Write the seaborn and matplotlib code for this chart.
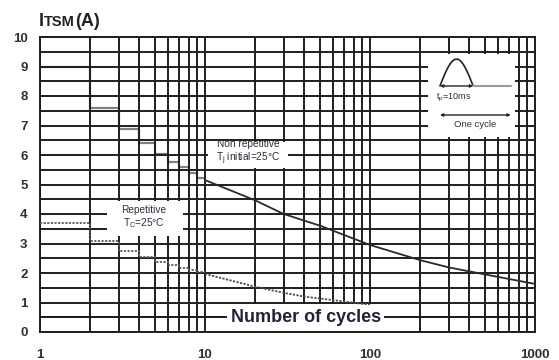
import numpy as np
import pandas as pd
import matplotlib
matplotlib.use("Agg")
import matplotlib.pyplot as plt
import seaborn as sns
from matplotlib.patches import Rectangle
from matplotlib.ticker import MultipleLocator, LogLocator, NullFormatter
from matplotlib.offsetbox import TextArea, HPacker, AnchoredOffsetbox

# Peak surge current ITSM versus number of 10 ms half-sine cycles
step_cycles = [1, 2, 3, 4, 5, 6, 7, 8, 9, 10]
nonrep_step = [8.97, 7.58, 6.88, 6.40, 6.02, 5.77, 5.60, 5.38, 5.21, 5.21]
rep_step = [3.68, 3.08, 2.75, 2.55, 2.38, 2.27, 2.18, 2.10, 2.02, 2.02]

nonrep_cycles = [10, 20, 30, 50, 100, 200, 300, 500, 1000]
nonrep_current = [5.15, 4.47, 4.0, 3.6, 2.95, 2.44, 2.19, 1.95, 1.63]

rep_cycles = [10, 20, 30, 40, 60, 100]
rep_current = [1.97, 1.54, 1.33, 1.2, 1.08, 0.92]

y_ticks = list(range(0, 11))
x_ticks = [1, 10, 100, 1000]
x_tick_labels = ["1", "10", "100", "1000"]

sns.set_theme(style="white")
plt.rcParams["font.family"] = ["Liberation Sans", "DejaVu Sans"]
plt.rcParams["mathtext.fontset"] = "custom"
plt.rcParams["mathtext.rm"] = "Liberation Sans"
plt.rcParams["mathtext.it"] = "Liberation Sans"

GRID = "#1e1e1e"
TXT = "#2e2e38"

fig = plt.figure(figsize=(5.59, 3.60), dpi=100)
ax = fig.add_axes([40 / 559, 28 / 360, 495 / 559, 295 / 360])
ax.set_xscale("log")
ax.set_xlim(1, 1000)
ax.set_ylim(0, 10)

# grid: every 0.5 A and every integer cycle count inside each decade
ax.yaxis.set_major_locator(MultipleLocator(1))
ax.yaxis.set_minor_locator(MultipleLocator(0.5))
ax.xaxis.set_minor_locator(LogLocator(base=10, subs=np.arange(2, 10)))
ax.xaxis.set_minor_formatter(NullFormatter())
ax.set_axisbelow(True)
ax.grid(True, which="both", color=GRID, linewidth=1.4)
ax.tick_params(which="both", length=0)
for s in ax.spines.values():
    s.set_color(GRID)
    s.set_linewidth(1.4)

ax.set_xticks(x_ticks, x_tick_labels)
ax.set_yticks(y_ticks, [str(v) for v in y_ticks])
ax.tick_params(axis="y", pad=9, labelsize=9.5, labelcolor=TXT)
ax.tick_params(axis="x", pad=12, labelsize=9.5, labelcolor=TXT)
for lab in ax.get_xticklabels() + ax.get_yticklabels():
    lab.set_fontweight("bold")

# white label areas that interrupt the grid
for (x0, x1, y0, y1) in [(10.4, 32.0, 5.55, 6.45),
                         (2.55, 7.36, 3.27, 4.43),
                         (225, 757, 6.6, 9.42),
                         (13.0, 150.0, 0.05, 0.95)]:
    ax.add_patch(Rectangle((x0, y0), x1 - x0, y1 - y0, facecolor="white",
                           edgecolor="none", zorder=1))
ax.axhline(0.5, color=GRID, linewidth=1.4, zorder=1.5)

# curves (the non-repetitive staircase sits under the grid)
sns.lineplot(x=step_cycles, y=nonrep_step, ax=ax, drawstyle="steps-post",
             color="#808080", linewidth=1.6, zorder=0.3, estimator=None)
sns.lineplot(x=nonrep_cycles, y=nonrep_current, ax=ax, color="#2a2a2a",
             linewidth=1.3, zorder=3, estimator=None)
sns.lineplot(x=step_cycles, y=rep_step, ax=ax, drawstyle="steps-post",
             color="#5a5a5a", linewidth=1.3, zorder=3,
             estimator=None, linestyle=(0, (1.2, 0.8)))
sns.lineplot(x=rep_cycles, y=rep_current, ax=ax, color="#4a4a4a",
             linewidth=1.3, zorder=3, estimator=None,
             linestyle=(0, (1.2, 0.8)))

ax.text(18.2, 6.08, "Non repetitive\nT$_\\mathrm{j}$ initial=25°C", ha="center",
        va="center", fontsize=7.3, color=TXT, linespacing=1.15, zorder=4)
ax.text(4.27, 3.88, "Repetitive\nT$_\\mathrm{C}$=25°C", ha="center",
        va="center", fontsize=7.3, color=TXT, linespacing=1.1, zorder=4)
ax.text(40.9, 0.5, "Number of cycles", ha="center", va="center",
        fontsize=13, fontweight="bold", color="#22223a", zorder=4,
        bbox=dict(facecolor="white", edgecolor="none", pad=2.5))

# pulse sketch in the upper right corner
tr = ax.transAxes
t = np.linspace(0, np.pi, 60)
px = 0.808 + (0.875 - 0.808) * t / np.pi
py = 0.834 + (0.925 - 0.834) * np.sin(t)
ax.plot(px, py, color="#222222", linewidth=1.2, transform=tr, zorder=4)
ax.annotate("", xy=(0.808, 0.834), xytext=(0.875, 0.834), xycoords=tr,
            arrowprops=dict(arrowstyle="<|-|>", color="#222222", lw=1.0,
                            mutation_scale=4, shrinkA=0, shrinkB=0), zorder=4)
ax.plot([0.875, 0.951], [0.834, 0.834], color="#9a9a9a", linewidth=1.5,
        transform=tr, zorder=4)
ax.text(0.836, 0.792, "t$_\\mathrm{p}$=10ms", transform=tr, ha="center",
        va="center", fontsize=6.5, color=TXT, zorder=4)
ax.annotate("", xy=(0.808, 0.7356), xytext=(0.951, 0.7356), xycoords=tr,
            arrowprops=dict(arrowstyle="<|-|>", color="#222222", lw=1.0,
                            mutation_scale=4, shrinkA=0, shrinkB=0), zorder=4)
ax.text(0.879, 0.704, "One cycle", transform=tr, ha="center", va="center",
        fontsize=6.8, color=TXT, zorder=4)

# axis title ITSM(A) with small-caps TSM
big = dict(fontsize=13, fontweight="bold", color="#222222")
small = dict(fontsize=10.5, fontweight="bold", color="#222222")
title = HPacker(children=[TextArea("I", textprops=big),
                          TextArea("TSM", textprops=small),
                          TextArea("(A)", textprops=big)],
                align="baseline", pad=0, sep=0)
anch = AnchoredOffsetbox(loc="lower left", child=title, pad=0, borderpad=0,
                         frameon=False, bbox_to_anchor=(39 / 559, 1 - 30 / 360),
                         bbox_transform=fig.transFigure)
fig.add_artist(anch)

fig.savefig("out.png", dpi=100)
